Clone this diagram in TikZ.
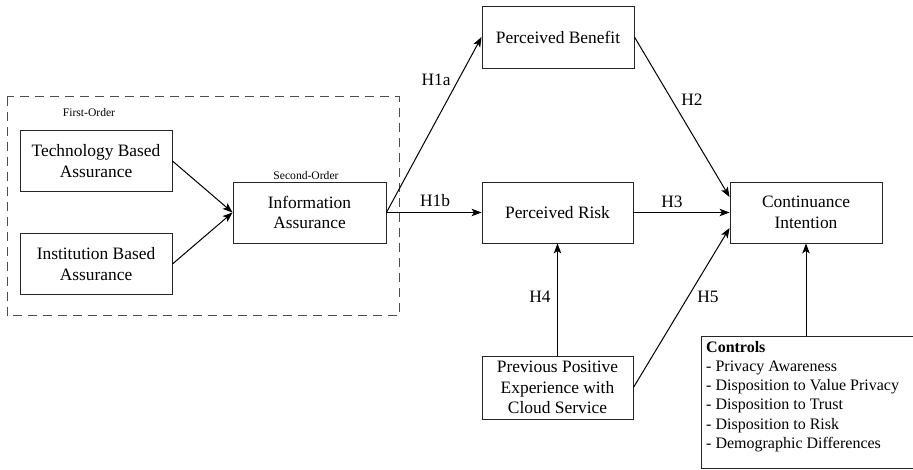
\documentclass[tikz,border=0pt]{standalone}
\usepackage{fontspec}
\setmainfont{Liberation Serif}
\usetikzlibrary{arrows.meta,positioning}
\begin{document}
\begin{tikzpicture}[x=1pt,y=-1pt,
  box/.style={draw=black!85,line width=0.9pt,align=center,inner sep=0pt,
    font=\fontsize{17.4}{20.5}\selectfont,minimum width=152pt,minimum height=61pt},
  small/.style={font=\fontsize{11.6}{13}\selectfont,inner sep=0pt},
  hlab/.style={font=\fontsize{17.4}{20}\selectfont,inner sep=0pt},
  link/.style={line width=1pt,-{Stealth[length=10pt,width=7.5pt,inset=2.5pt]}},
  group/.style={draw=black!70,line width=1pt,dash pattern=on 9pt off 6pt}]
\useasboundingbox (0,0) rectangle (913,470);
\clip (0,0) rectangle (913,470);

% second-order construct grouping
\draw[group] (7,97) rectangle (399,316);
\node[small] (fo) at (89,113) {First-Order};
\node[small] (so) at (306,176) {Second-Order};

% constructs
\node[box] (tba) at (96,161) {Technology Based\\Assurance};
\node[box] (iba) at (96,264) {Institution Based\\Assurance};
\node[box,minimum width=153pt] (ia) at (309.5,212.5) {Information\\Assurance};
\node[box,minimum height=62pt] (pb) at (558,37) {Perceived Benefit};
\node[box,minimum width=151pt] (pr) at (557.5,212.5) {Perceived Risk};
\node[box] (ci) at (806,212.5) {Continuance\\Intention};
\node[box,minimum width=151pt,minimum height=63pt] (pe) at (557.5,387.5)
  {Previous Positive\\Experience with\\Cloud Service};
% controls box runs past the right edge of the page
\node[draw=black!85,line width=0.9pt,minimum width=224pt,minimum height=132pt,
  inner sep=0pt] (ct) at (813,402) {};
\node[anchor=north west,align=left,inner sep=0pt,
  font=\fontsize{16}{19.2}\selectfont] (ctt) at (706,341)
  {\textbf{Controls}\\- Privacy Awareness\\- Disposition to Value Privacy\\
   - Disposition to Trust\\- Disposition to Risk\\- Demographic Differences};

% paths
\draw[link] (tba.east) -- (ia.west);
\draw[link] (iba.east) -- (ia.west);
\draw[link] (ia.east) -- (pb.west);
\draw[link] (ia.east) -- (pr.west);
\draw[link] (pb.east) -- ([yshift=15.5pt]ci.west);
\draw[link] (pr.east) -- (ci.west);
\draw[link] (pe.north) -- (pr.south);
\draw[link] (pe.east) -- ([yshift=-15.5pt]ci.west);
\draw[link] (ct.north -| ci.south) -- (ci.south);

% hypothesis labels
\node[hlab] (h1a) at (436,80) {H1a};
\node[hlab] (h1b) at (435,201) {H1b};
\node[hlab] (h2) at (692,100) {H2};
\node[hlab] (h3) at (672,202) {H3};
\node[hlab] (h4) at (540,297) {H4};
\node[hlab] (h5) at (708,297) {H5};
\end{tikzpicture}
\end{document}
